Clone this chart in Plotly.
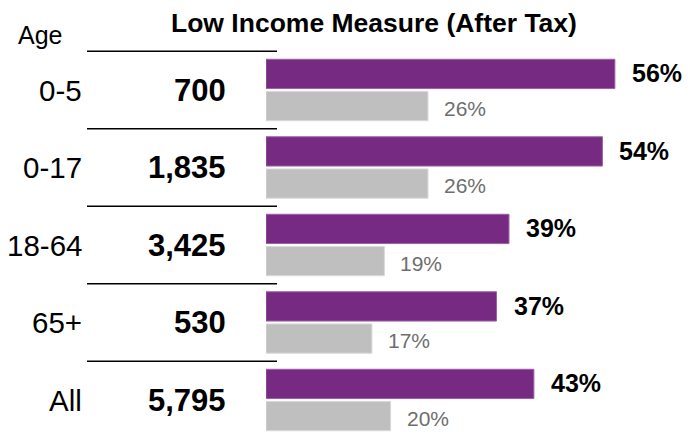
import plotly.graph_objects as go

ages = ["0-5", "0-17", "18-64", "65+", "All"]
counts = [700, 1835, 3425, 530, 5795]
lim_rate = [56, 54, 39, 37, 43]
comparison_rate = [26, 26, 19, 17, 20]
title_text = "Low Income Measure (After Tax)"
age_header = "Age"

W, H = 690, 434
PURPLE = "#772A82"
GRAY = "#BFBFBF"
FONT = "Arial, Liberation Sans, sans-serif"

fig = go.Figure()
fig.add_trace(go.Bar(
    y=ages, x=lim_rate, orientation="h",
    marker=dict(color=PURPLE, line=dict(color="#9A62A3", width=1)),
    hoverinfo="skip", showlegend=False,
))
fig.add_trace(go.Bar(
    y=ages, x=comparison_rate, orientation="h",
    marker=dict(color=GRAY, line=dict(color="#D9D9D9", width=1)),
    hoverinfo="skip", showlegend=False,
))

annotations = []
for a, v in zip(ages, lim_rate):
    annotations.append(dict(
        x=v, y=a, xref="x", yref="y", text=f"<b>{v}%</b>", showarrow=False,
        xanchor="left", yanchor="middle", xshift=15, yshift=17,
        font=dict(family=FONT, size=25, color="#000000"),
    ))
for a, v in zip(ages, comparison_rate):
    annotations.append(dict(
        x=v, y=a, xref="x", yref="y", text=f"{v}%", showarrow=False,
        xanchor="left", yanchor="middle", xshift=14, yshift=-18,
        font=dict(family=FONT, size=21, color="#6E6E6E"),
    ))
for a, c in zip(ages, counts):
    annotations.append(dict(
        x=84 / W, y=a, xref="paper", yref="y", text=a, showarrow=False,
        xanchor="right", yanchor="middle",
        font=dict(family=FONT, size=29.5, color="#000000"),
    ))
    annotations.append(dict(
        x=228 / W, y=a, xref="paper", yref="y", text=f"<b>{c:,}</b>", showarrow=False,
        xanchor="right", yanchor="middle",
        font=dict(family=FONT, size=31, color="#000000"),
    ))
annotations.append(dict(
    x=40 / W, y=1 - 35 / H, xref="paper", yref="paper", text=age_header, showarrow=False,
    xanchor="center", yanchor="middle",
    font=dict(family=FONT, size=25, color="#000000"),
))
annotations.append(dict(
    x=374 / W, y=1 - 23 / H, xref="paper", yref="paper", text=f"<b>{title_text}</b>", showarrow=False,
    xanchor="center", yanchor="middle",
    font=dict(family=FONT, size=26.5, color="#000000"),
))

shapes = []
for i in range(len(ages)):
    shapes.append(dict(
        type="line", xref="paper", yref="y", x0=87 / W, x1=277 / W,
        y0=i - 0.5, y1=i - 0.5, line=dict(color="#000000", width=1.5),
    ))

px_per_pct = 6.23
row_px = 77.5
center0 = 90.0
fig.update_layout(
    width=W, height=H,
    margin=dict(l=0, r=0, t=0, b=0),
    paper_bgcolor="white", plot_bgcolor="white",
    barmode="group", bargap=0.17, bargroupgap=0.09,
    xaxis=dict(domain=[266 / W, 1], range=[0, (W - 266) / px_per_pct],
               visible=False, fixedrange=True),
    yaxis=dict(domain=[0, 1], type="category", categoryarray=ages,
               range=[(H - center0) / row_px, -center0 / row_px],
               visible=False, fixedrange=True),
    annotations=annotations, shapes=shapes,
    showlegend=False,
)

fig.write_html("out.html", config={"displayModeBar": False})
